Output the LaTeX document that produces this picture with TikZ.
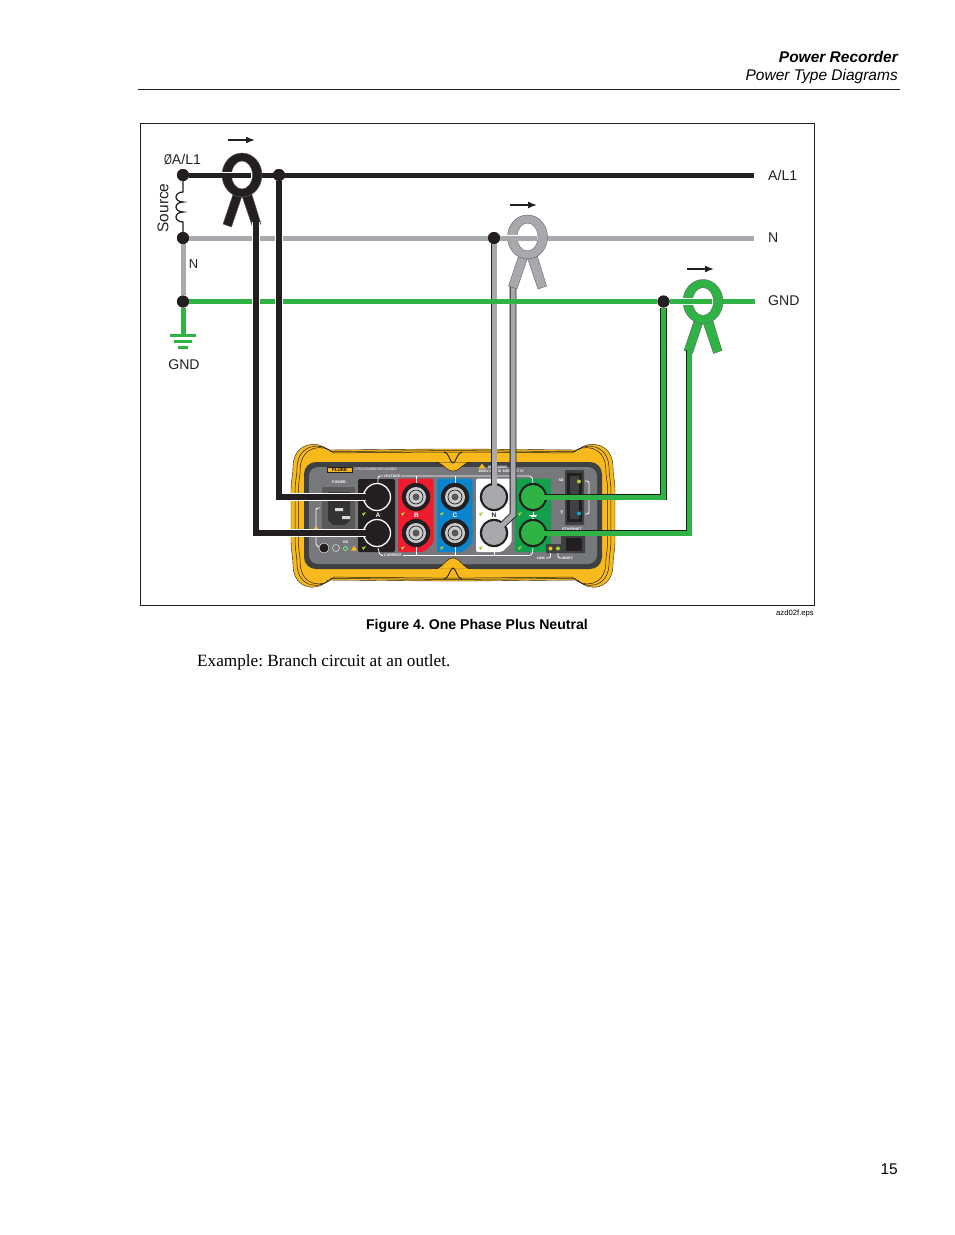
\documentclass[tikz,border=0pt]{standalone}
\usepackage{fontspec}
\setmainfont{Liberation Sans}
\newfontfamily\bodyfont{Liberation Serif}
\usepackage{graphicx}
\usepackage{tikz}
\usetikzlibrary{arrows.meta}

\definecolor{wireblack}{HTML}{231F20}
\definecolor{wiregray}{HTML}{A7A9AC}
\definecolor{wiregreen}{HTML}{2FB344}
\definecolor{bodyyellow}{HTML}{F8B91C}
\definecolor{panelgray}{HTML}{77787B}
\definecolor{paneldark}{HTML}{3F4042}
\definecolor{redbay}{HTML}{ED1C2E}
\definecolor{bluebay}{HTML}{0A84CC}
\definecolor{greenbay}{HTML}{12A04C}
\definecolor{ringgray}{HTML}{C9CACC}
\definecolor{markgreen}{HTML}{A9CF38}

% body contour of the recorder
\newcommand{\bodyoutline}{
    (328,450) -- (438,449) -- (468,449) -- (578,450)
    .. controls (588,440) and (612,442) .. (613,466)
    .. controls (613,476) and (615,480) .. (615,490)
    -- (615,540)
    .. controls (615,552) and (613,556) .. (613,566)
    .. controls (612,590) and (588,592) .. (578,580)
    -- (468,581) -- (438,581) -- (328,580)
    .. controls (318,592) and (294,590) .. (293,566)
    .. controls (293,556) and (291,552) .. (291,540)
    -- (291,490)
    .. controls (291,480) and (293,476) .. (293,466)
    .. controls (294,442) and (318,440) .. (328,450) -- cycle
}

% current clamp: #1 colour, #2 centre
\newcommand{\clampjaw}[2]{
    \begin{scope}[shift={#2}]
        \fill[#1, draw=wireblack!70, line width=0.4pt]
            (-8.5,18) -- (-19,49) -- (-10.5,52) -- (0,21) -- (10.5,52) -- (19,49) -- (9.5,18) -- cycle;
        \fill[#1, draw=wireblack!70, line width=0.4pt, even odd rule]
            (0,0) ellipse [x radius=20, y radius=22] (0,0) ellipse [x radius=10.5, y radius=14];
    \end{scope}
}

\begin{document}
\frenchspacing
\begin{tikzpicture}[x=1pt,y=-1pt,
        hwire/.style = {draw=#1, line width=5pt},
        vwire/.style = {draw=wireblack, line width=5.2pt, preaction={draw=white, line width=7.6pt}},
        cable/.style = {double=#1, double distance=5pt, line width=0.9pt, draw=wireblack},
        halo/.style = {draw=#1, line width=5pt, preaction={draw=white, line width=6.2pt}},
        junction/.style = {circle, fill=wireblack, inner sep=0pt, minimum size=12pt},
        flow/.style = {draw=wireblack, line width=1.6pt, -{Latex[length=9pt,width=7pt]}},
        pagetext/.style = {inner sep=0pt, font=\fontsize{15.5}{18}\selectfont},
        txt/.style = {inner sep=0pt, text=wireblack, font=\fontsize{14.1}{17}\selectfont},
        tinytxt/.style = {inner sep=0pt, text=white, font=\fontsize{3.6}{4}\selectfont\bfseries},
        ring/.style = {circle, draw=#1, line width=1.3pt, fill=wireblack, inner sep=0pt, minimum size=27pt},
        capdisc/.style = {circle, fill=#1, inner sep=0pt, minimum size=24pt},
        bay/.style = {fill=#1, draw=none},
        bracket/.style = {draw=white, line width=0.8pt, rounded corners=2pt}
    ]
    \useasboundingbox (0,0) rectangle (954,1235);

    % page furniture
    \node[pagetext, anchor=east, font=\fontsize{15.5}{18}\selectfont\bfseries\itshape] (title) at (898,57) {Power Recorder};
    \node[pagetext, anchor=east, font=\fontsize{15.5}{18}\selectfont\itshape] (subtitle) at (898,76) {Power Type Diagrams};
    \draw[line width=0.8pt, wireblack] (138,89.5) -- (900,89.5);
    \draw[line width=0.7pt, wireblack] (140.5,123.5) rectangle (814.5,605.5);
    \node[inner sep=0pt, anchor=east, font=\fontsize{7.7}{9}\selectfont] (eps) at (814,613.5) {azd02f.eps};
    \node[inner sep=0pt, font=\fontsize{14.1}{17}\selectfont\bfseries] (caption) at (477,626) {Figure 4. One Phase Plus Neutral};
    \node[inner sep=0pt, anchor=west, font=\fontsize{17.2}{20}\selectfont\bodyfont] (example) at (197,662.5) {Example: Branch circuit at an outlet.};
    \node[pagetext, anchor=east] (pageno) at (898,1169) {15};

    % recorder body
    \fill[bodyyellow, draw=wireblack, line width=0.4pt] \bodyoutline;
    \begin{scope}[shift={(453,515.5)}, scale=0.975, shift={(-453,-515.5)}]
        \draw[wireblack, line width=0.5pt] \bodyoutline;
    \end{scope}
    \begin{scope}[shift={(453,515.5)}, scale=0.955, shift={(-453,-515.5)}]
        \draw[wireblack, line width=0.5pt] \bodyoutline;
    \end{scope}
    \fill[paneldark, rounded corners=12pt] (304,462) rectangle (602,569);
    \fill[panelgray, rounded corners=9pt] (309,467) rectangle (597,564);
    % tabs at top and bottom
    \fill[bodyyellow, draw=wireblack, line width=0.5pt]
        (433,462) .. controls (444,462) and (445,471) .. (453,471) .. controls (461,471) and (462,462) .. (473,462) -- cycle;
    \fill[bodyyellow] (432,456) rectangle (474,462.3);
    \draw[wireblack, line width=0.9pt] (444,452) .. controls (449,452) and (450,463) .. (453,463) .. controls (456,463) and (457,452) .. (462,452);
    \fill[bodyyellow, draw=wireblack, line width=0.5pt]
        (433,569) .. controls (444,569) and (445,558) .. (453,558) .. controls (461,558) and (462,569) .. (473,569) -- cycle;
    \fill[bodyyellow] (432,568.7) rectangle (474,575);
    \draw[wireblack, line width=0.9pt] (444,579) .. controls (449,579) and (450,568) .. (453,568) .. controls (456,568) and (457,579) .. (462,579);
    \fill[bodyyellow, draw=wireblack, line width=0.3pt] (327,467) rectangle (352,472.5);
    \node[inner sep=0pt, font=\fontsize{4.5}{5}\selectfont\bfseries] (fluke) at (339.5,469.8) {FLUKE};
    \node[tinytxt, anchor=west, font=\fontsize{3.4}{4}\selectfont\itshape] (model) at (355,469) {1750 POWER RECORDER};

    % mains inlet
    \node[tinytxt] (powerlabel) at (339,482.5) {POWER};
    \fill[black!65, rounded corners=2pt] (322,487) rectangle (355,530);
    \fill[black!80] (328,492) -- (350,492) -- (350,520) -- (345,525) -- (333,525) -- (328,520) -- cycle;
    \fill[white!85!black] (335,508) rectangle (343,511) (342,516) rectangle (350,519);
    \draw[bracket] (320,508) -- (316,508) -- (316,546) -- (322,548);
    \fill[bodyyellow] (316,526) -- (319.5,531) -- (312.5,531) -- cycle;
    \node[circle, fill=wireblack, draw=white, line width=0.4pt, inner sep=0pt, minimum size=10pt] (screw) at (324,548) {};
    \node[circle, draw=white, line width=0.4pt, inner sep=0pt, minimum size=7pt] (earth) at (336,548) {};
    \node[circle, fill=wiregreen, draw=white, line width=0.3pt, inner sep=0pt, minimum size=4pt] (onled) at (345.5,548.5) {};
    \fill[bodyyellow] (354,545.5) -- (357,550.5) -- (351,550.5) -- cycle;
    \node[tinytxt] (onlabel) at (345.5,542.5) {ON};

    % terminal bays
    \fill[bay=wireblack, rounded corners=2pt] (358,479) rectangle (395,552);
    \foreach \x/\col in {398/redbay, 437/bluebay, 476/white} {
        \fill[bay=\col, rounded corners=2pt] (\x,552) -- (\x,478.5) -- (\x+35.5,478.5) -- (\x+35.5,543) -- (\x+26,552) -- cycle;
    }
    \fill[bay=greenbay, rounded corners=2pt] (515,478.5) rectangle (551,552);

    % voltage and current brackets
    \draw[bracket] (378,484) -- (378,476) -- (532,476) -- (533,484);
    \draw[bracket] (378,548) -- (380,555.5) -- (532,555.5) -- (533,548);
    \foreach \x in {416,455} {
        \draw[bracket] (\x,476) -- (\x,484);
        \draw[bracket] (\x,555.5) -- (\x,546);
    }
    \draw[bracket] (494,555.5) -- (494,550);
    \node[tinytxt, fill=panelgray, inner xsep=1pt] (voltage) at (392,476) {VOLTAGE};
    \node[tinytxt, fill=panelgray, inner xsep=1pt] (current) at (393,555) {CURRENT};
    \fill[bodyyellow] (482,463.5) -- (485.5,468.5) -- (478.5,468.5) -- cycle;
    \node[tinytxt, anchor=west] (catone) at (488,467) {MAX 1000V};
    \node[tinytxt] (cattwo) at (501,471.5) {1000V CAT III\ \ 600V CAT IV};

    % marks beside the terminals
    \foreach \x in {364,403,442,481,520} {
        \foreach \y in {514,548} {
            \fill[markgreen] (\x-2,\y-0.5) -- (\x+2,\y-2) -- (\x-0.5,\y+2) -- cycle;
        }
    }
    \node[inner sep=0pt, text=white, font=\fontsize{6.5}{7}\selectfont\bfseries] (nameA) at (378,515) {A};
    \node[inner sep=0pt, text=white, font=\fontsize{6.5}{7}\selectfont\bfseries] (nameB) at (416.5,515) {B};
    \node[inner sep=0pt, text=white, font=\fontsize{6.5}{7}\selectfont\bfseries] (nameC) at (455,515) {C};
    \node[inner sep=0pt, text=wireblack, font=\fontsize{6.5}{7}\selectfont\bfseries] (nameN) at (494,515) {N};
    \draw[white, line width=0.5pt] (533,512) -- (533,515) (529,515) -- (537,515) (530.5,516.5) -- (535.5,516.5) (532,518) -- (534,518);

    % SD slot and ethernet
    \fill[paneldark, rounded corners=1pt] (565,470) rectangle (584,525);
    \fill[wireblack] (567,473) rectangle (582,522);
    \fill[paneldark] (570,476) rectangle (579,519);
    \draw[bracket] (585,481) -- (589,481) -- (589,514) -- (585,514);
    \node[circle, fill=markgreen, inner sep=0pt, minimum size=4pt] (sdled) at (579,481.5) {};
    \node[circle, fill=bluebay!70!cyan, inner sep=0pt, minimum size=4pt] (usbled) at (579,513.5) {};
    \node[tinytxt] (sdlabel) at (561,480.5) {SD};
    \node[tinytxt, font=\fontsize{5}{6}\selectfont\bfseries] (usblabel) at (562,513) {T};
    \node[tinytxt] (ethlabel) at (572,529) {ETHERNET};
    \fill[paneldark] (546,544) -- (561,544) -- (561,535) -- (585,535) -- (585,553) -- (546,553) -- cycle;
    \fill[wireblack] (566,538) -- (582,538) -- (582,551) -- (566,551) -- cycle;
    \node[circle, fill=bodyyellow, inner sep=0pt, minimum size=4pt] (linkled) at (550.5,548.5) {};
    \node[circle, fill=markgreen, inner sep=0pt, minimum size=4pt] (busyled) at (558,548.5) {};
    \draw[bracket] (550.5,553) -- (550.5,558) -- (546,558);
    \draw[bracket] (558,553) -- (558,558) -- (563,558);
    \node[tinytxt] (linklabel) at (541,558.5) {LINK};
    \node[tinytxt] (busylabel) at (568,558.5) {BUSY};

    % terminals
    \node[ring=white] (jackAv) at (377,497) {};
    \node[ring=white] (jackAi) at (377,533) {};
    \node[ring=wireblack] (jackNv) at (494,497) {};
    \node[ring=wireblack] (jackNi) at (494,533) {};
    \node[ring=wireblack] (jackGv) at (533,497) {};
    \node[ring=wireblack] (jackGi) at (533,533) {};
    \foreach \x/\lett in {416/B, 455/C} {
        \foreach \y/\kind in {497/v, 533/i} {
            \node[ring=wireblack] (jack\lett\kind) at (\x,\y) {};
            \node[circle, fill=ringgray, inner sep=0pt, minimum size=20pt] (bore\lett\kind) at (\x,\y) {};
            \node[circle, draw=wireblack, line width=0.7pt, fill=ringgray, inner sep=0pt, minimum size=14pt] (band\lett\kind) at (\x,\y) {};
            \node[circle, fill=black!65, inner sep=0pt, minimum size=7pt] (pin\lett\kind) at (\x,\y) {};
        }
    }

    % source side
    \node[junction] (srcA) at (183,175) {};
    \node[junction] (srcN) at (183,238) {};
    \node[junction] (srcG) at (183,301.5) {};
    \coordinate (gndfoot) at (183,335);
    \coordinate (endA) at (754,175);
    \coordinate (endN) at (754,238);
    \coordinate (endG) at (755,301.5);
    \coordinate (holeA) at (251,175);
    \coordinate (holeN) at (537,238);
    \coordinate (holeG) at (712,301.5);
    \coordinate (outA) at (261,175);
    \coordinate (outN) at (546,238);
    \coordinate (outG) at (722,301.5);
    \node[junction] (tapA) at (279,175) {};
    \node[junction] (tapN) at (494,238) {};
    \node[junction] (tapG) at (663.5,301.5) {};
    \coordinate (legA) at (256,222);
    \coordinate (legN) at (513,285);
    \coordinate (legG) at (689,350);
    \coordinate (bendN) at (513,515);

    \draw[wireblack, line width=1.3pt] (srcA) -- (183,192)
        arc[start angle=270, end angle=90, x radius=7, y radius=5]
        arc[start angle=270, end angle=90, x radius=7, y radius=5]
        arc[start angle=270, end angle=90, x radius=7, y radius=5] -- (srcN);
    \draw[hwire=wiregray] (srcN) -- (srcG);
    \draw[hwire=wiregreen] (srcG) -- (gndfoot);
    \draw[line width=2.6pt, wiregreen] (170,335.5) -- (196,335.5) (174,341.5) -- (192,341.5) (178,347.5) -- (188,347.5);

    % gray run lies under the green line
    \draw[hwire=wiregray] (srcN) -- (tapN);
    \draw[hwire=wiregray] (outN) -- (endN);
    \draw[cable=wiregray] (tapN) -- (jackNv.center);
    \draw[cable=wiregray] (legN) -- (bendN) -- (jackNi.center);
    \draw[hwire=wiregreen] (srcG) -- (tapG);
    \draw[hwire=wiregreen] (outG) -- (endG);
    \draw[hwire=wireblack] (outA) -- (endA);
    \draw[cable=wiregreen] (tapG) |- (jackGv.center);

    % clamps
    \clampjaw{wireblack}{(242,175)}
    \clampjaw{wiregray}{(527.5,237)}
    \clampjaw{wiregreen}{(703,301.5)}
    \draw[halo=wireblack] (srcA) -- (holeA);
    \draw[halo=wiregray] (tapN) -- (holeN);
    \draw[halo=wiregreen] (tapG) -- (holeG);
    \draw[cable=wiregreen] (legG) |- (jackGi.center);

    \draw[vwire] (tapA) |- (jackAv.center);
    \draw[vwire] (legA) |- (jackAi.center);

    % discs go over the wire ends
    \node[capdisc=wireblack] (capAv) at (jackAv) {};
    \node[capdisc=wireblack] (capAi) at (jackAi) {};
    \node[capdisc=wiregray] (capNv) at (jackNv) {};
    \node[capdisc=wiregray] (capNi) at (jackNi) {};
    \node[capdisc=wiregreen] (capGv) at (jackGv) {};
    \node[capdisc=wiregreen] (capGi) at (jackGi) {};

    \node[junction] (dotA) at (srcA) {};
    \node[junction] (dotN) at (srcN) {};
    \node[junction] (dotG) at (srcG) {};
    \node[junction] (dottapA) at (tapA) {};
    \node[junction] (dottapN) at (tapN) {};
    \node[junction] (dottapG) at (tapG) {};

    \foreach \x/\y in {228/140, 510/205, 687/269} {
        \draw[flow] (\x,\y) -- (\x+27,\y);
    }

    % labels
    \node[txt] (lblsrcA) at (182.5,159.5) {\scalebox{0.72}[1]{Ø}A/L1};
    \node[txt, rotate=90, font=\fontsize{15.5}{18}\selectfont] (lblsource) at (163,208) {Source};
    \node[txt, font=\fontsize{13}{15}\selectfont] (lblsrcN) at (193.5,264) {N};
    \node[txt] (lblsrcG) at (184,364.5) {GND};
    \node[txt, anchor=west] (lblendA) at (768,175) {A/L1};
    \node[txt, anchor=west] (lblendN) at (768,237.5) {N};
    \node[txt, anchor=west] (lblendG) at (768,300.5) {GND};
\end{tikzpicture}
\end{document}
